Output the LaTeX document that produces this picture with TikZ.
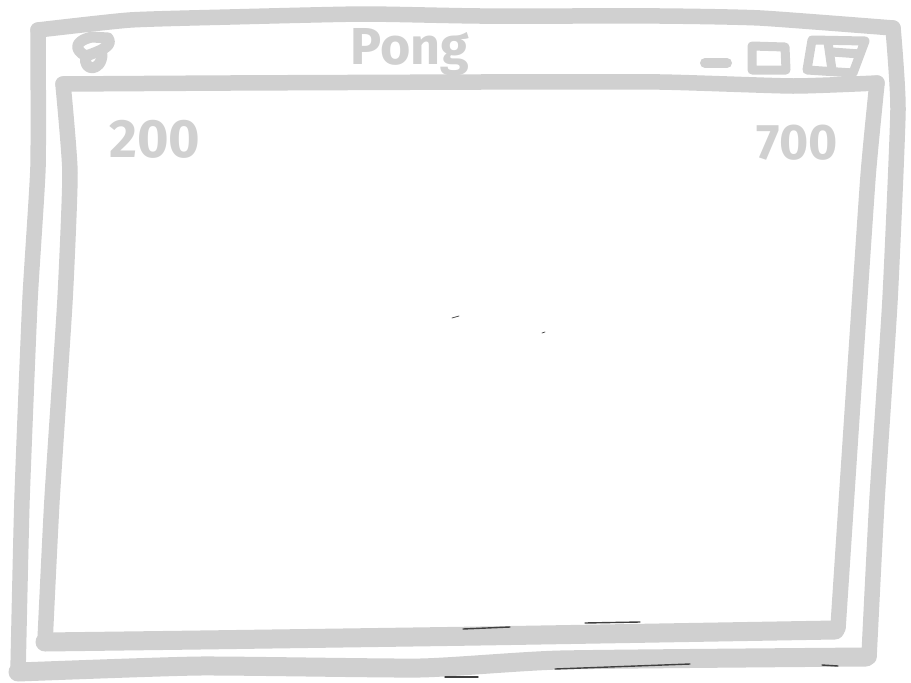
\documentclass[tikz,border=0pt]{standalone}
\usepackage{fontspec}
\setsansfont{Fira Sans}
\usepackage{xcolor}
\definecolor{pencil}{HTML}{D0D0D0}
\tikzset{
pen/.style={draw=pencil,line width=15.5pt,line join=round,line cap=round},
widepen/.style={draw=pencil,line width=19pt,line join=round,line cap=round},
thinpen/.style={draw=pencil,line width=9pt,line join=round,line cap=round},
score/.style={text=pencil,font=\sffamily\bfseries\fontsize{54}{54}\selectfont,inner sep=0pt},
smudge/.style={draw=black!75,line width=1.4pt,line cap=round}
}
\begin{document}
\begin{tikzpicture}[x=1pt,y=-1pt]
\useasboundingbox (0,0) rectangle (911,683);
% outer frame
\draw[pen] plot[smooth,tension=0.3] coordinates {(38,30) (130,20) (230,17) (363,14) (480,16) (660,16) (760,18) (893,28)};
\draw[pen] plot[smooth,tension=0.3] coordinates {(893,28) (898,110) (890,300) (877,500) (869,657)};
\draw[pen] plot[smooth,tension=0.3] coordinates {(38,30) (38,167) (30,300) (22,500) (18,672)};
\draw[widepen] plot[smooth,tension=0.3] coordinates {(18,672) (200,666) (420,668) (560,660) (866,657)};
% inner frame
\draw[pen] plot[smooth,tension=0.3] coordinates {(63,84) (230,83) (480,82) (660,82) (793,86) (877,83)};
\draw[pen] plot[smooth,tension=0.3] coordinates {(877,83) (868,177) (853,400) (838,628)};
\draw[pen] plot[smooth,tension=0.3] coordinates {(63,84) (70,173) (65,300) (52,500) (45,642)};
\draw[widepen] plot[smooth,tension=0.3] coordinates {(45,642) (200,640) (480,636) (835,630)};
% title bar
\node[text=pencil,font=\sffamily\bfseries\fontsize{52}{52}\selectfont,inner sep=0pt] (title) at (410,52) {Pong};
\draw[thinpen,line width=11pt] (92,37) .. controls (74,41) and (74,50) .. (86,56) .. controls (100,51) and (114,46) .. (108,38) -- cycle;
\draw[thinpen,line width=11pt] (86,56) .. controls (82,72) and (102,72) .. (102,54);
\draw[thinpen,line width=10pt] (705,63) -- (727,63);
\draw[thinpen] (752,46) -- (752,70) -- (786,70) -- (785,47) -- cycle;
\draw[thinpen] (812,40) -- (865,41) -- (853,73) -- (807,70) -- cycle;
\draw[thinpen] (828,42) -- (832,70);
\draw[thinpen] (832,52) -- (860,54);
% scores
\node[score] (left score) at (155,139) {200};
\node[score,font=\sffamily\bfseries\fontsize{50}{50}\selectfont] (right score) at (797,143) {700};
% dark marks
\draw[smudge] (463,629) -- (510,627);
\draw[smudge] (585,623) -- (640,622);
\draw[smudge] (445,677) -- (478,677);
\draw[smudge] (555,669) -- (690,664);
\draw[smudge] (822,665) -- (838,666);
\draw[smudge,line width=0.7pt] (452,318) -- (459,316);
\draw[smudge,line width=0.7pt] (542,333) -- (545,332);
\end{tikzpicture}
\end{document}
